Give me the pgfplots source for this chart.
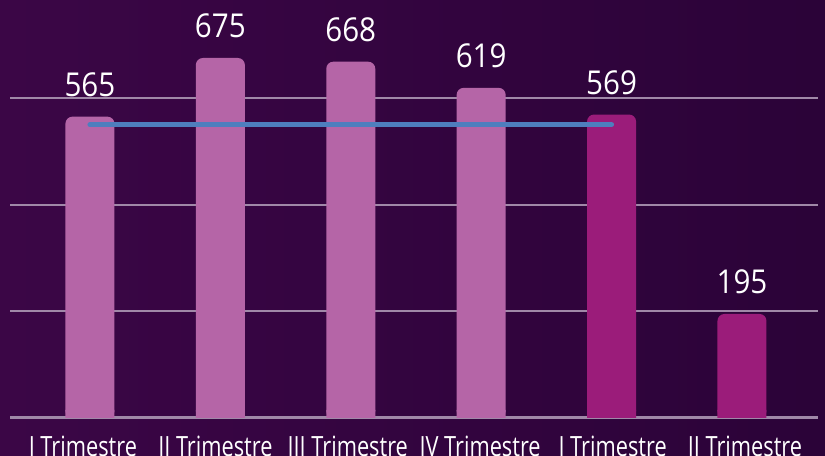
\documentclass[border=0pt]{standalone}
\usepackage{fontspec}
\setmainfont{Open Sans}
\newfontfamily\labfont[FakeStretch=0.78]{Open Sans}
\newfontfamily\valfont[FakeStretch=0.9]{Open Sans}
\usepackage{pgfplots}
\pgfplotsset{compat=1.18}
\usepackage{pgfplotstable}
\definecolor{bgl}{RGB}{59,6,70}
\definecolor{bgr}{RGB}{43,3,56}
\definecolor{gridc}{RGB}{160,136,168}
\definecolor{barA}{RGB}{181,101,167}
\definecolor{barB}{RGB}{155,28,122}
\definecolor{linec}{RGB}{78,126,190}
\pgfplotstableread{
x y
0 565
1 675
2 668
3 619
}\dataA
\pgfplotstableread{
x y
4 569
5 195
}\dataB
\begin{document}
\begin{tikzpicture}[x=1bp,y=1bp]
\useasboundingbox (0,0) rectangle (825,456);
\clip (0,0) rectangle (825,456);
\fill[left color=bgl,right color=bgr] (0,0) rectangle (825,456);
\begin{axis}[
  scale only axis,
  width=808bp, height=418bp,
  at={(10bp,38bp)}, anchor=south west,
  xmin=-0.613, xmax=5.583,
  ymin=0, ymax=783.75,
  axis line style={draw=none},
  major tick length=0pt,
  ytick={200,400,600},
  yticklabels={},
  ymajorgrids,
  grid style={color=gridc, line width=2bp},
  extra y ticks={0},
  extra y tick labels={},
  extra y tick style={grid style={color=gridc, line width=3bp}},
  xtick={-0.054,0.962,1.977,2.992,4.008,5.023},
  xticklabels={I Trimestre, II Trimestre, III Trimestre, IV Trimestre, I Trimestre, II Trimestre},
  xticklabel style={anchor=base, inner sep=0pt, yshift=-39bp, text=white, font=\labfont\fontsize{28}{30}\selectfont},
  ybar, bar width=49bp,
  clip=false,
  /pgf/number format/assume math mode=true,
  nodes near coords,
  every node near coord/.append style={anchor=base, inner sep=0pt, yshift=20bp, text=white, font=\valfont\fontsize{33}{36}\selectfont},
]
\addplot[fill=barA, draw=none, bar shift=0pt, nodes near coords={}, restrict y to domain*=0:15] table[x=x,y=y] {\dataA};
\addplot[fill=barB, draw=none, bar shift=0pt, nodes near coords={}, restrict y to domain*=0:15] table[x=x,y=y] {\dataB};
\addplot[fill=barA, draw=none, rounded corners=7bp, bar shift=0pt] table[x=x,y=y] {\dataA};
\addplot[fill=barB, draw=none, rounded corners=7bp, bar shift=0pt] table[x=x,y=y] {\dataB};
\addplot[sharp plot, color=linec, line width=5bp, line cap=round, nodes near coords={}] coordinates {(0,550) (4,550)};
\end{axis}
\end{tikzpicture}
\end{document}
